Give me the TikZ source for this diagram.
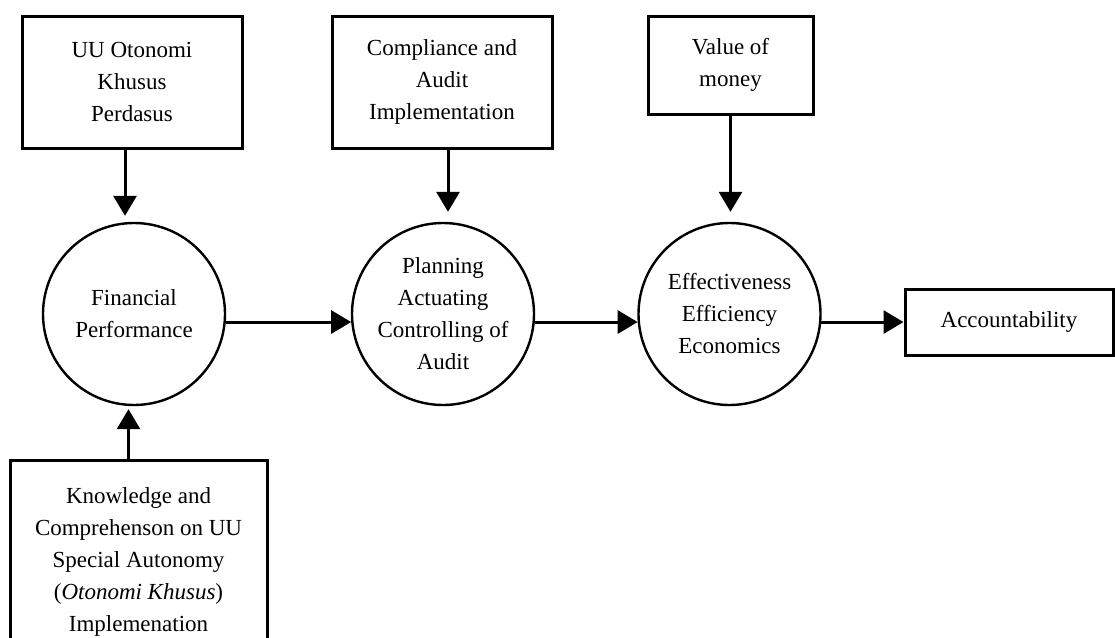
\documentclass[tikz,border=0pt]{standalone}
\usepackage{fontspec}
\setmainfont{Liberation Serif}
\usetikzlibrary{arrows.meta}

\begin{document}
\begin{tikzpicture}[x=1pt,y=-1pt,
        every node/.style={font=\fontsize{23}{32}\selectfont, align=center},
        box/.style={draw, line width=3pt, inner sep=2pt},
        circ/.style={draw, circle, line width=2.4pt, minimum size=182pt, inner sep=0pt},
        arr/.style={line width=3pt, -{Triangle[length=20pt,width=23pt]}}]
        \useasboundingbox (0,0) rectangle (1115,637);
        \clip (0,0) rectangle (1115,637);

        % boxes on top
        \node[box, minimum width=220pt, minimum height=132pt] (law) at (132,82) {UU Otonomi\\Khusus\\Perdasus};
        \node[box, minimum width=220pt, minimum height=132pt] (comp) at (442,82) {Compliance and\\Audit\\Implementation};
        \node[box, minimum width=165pt, minimum height=98pt] (vom) at (730.5,65) {Value of\\money};

        % circles
        \node[circ] (fin) at (134,314) {Financial\\Performance};
        \node[circ] (plan) at (443,314) {Planning\\Actuating\\Controlling of\\Audit};
        \node[circ] (eee) at (729.5,314) {Effectiveness\\Efficiency\\Economics};

        % right and bottom boxes
        \node[box, minimum width=208pt, minimum height=66pt] (acc) at (1009,322) {Accountability};
        \node[box, minimum width=257pt, minimum height=200pt, text depth=0pt] (know) at (138.5,560)
            {Knowledge and\\Comprehenson on UU\\Special Autonomy\\(\textit{Otonomi Khusus})\\Implemenation};

        \draw[arr, shorten >=6pt] ([xshift=-7pt]law.south) -- ([xshift=-7pt]law.south |- fin.north);
        \draw[arr, shorten >=10pt] ([xshift=6pt]comp.south) -- ([xshift=6pt]comp.south |- plan.north);
        \draw[arr, shorten >=10pt] (vom.south) -- (vom.south |- eee.north);
        \draw[arr, shorten >=3pt] ([xshift=-10pt]know.north) -- ([xshift=-10pt]know.north |- fin.south);

        \draw[arr] (fin.-5.5) -- (plan.185.5);
        \draw[arr] (plan.-5.5) -- (eee.185.5);
        \draw[arr] (eee.-5.5) -- (eee.-5.5 -| acc.west);
    \end{tikzpicture}
\end{document}
